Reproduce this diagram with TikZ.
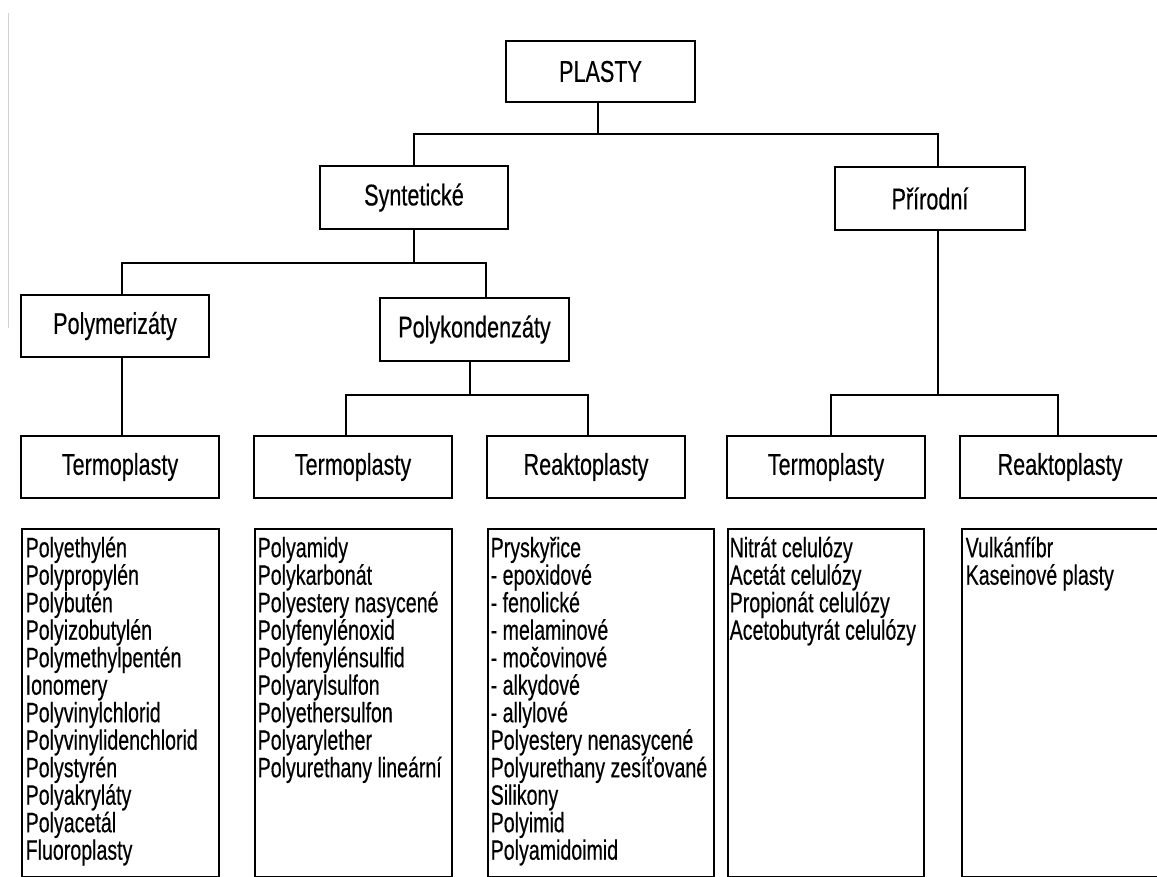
\documentclass[tikz,border=0pt]{standalone}
\usepackage{fontspec}
\setmainfont{Liberation Sans}[FakeStretch=0.7,FakeBold=0.35]
\newfontfamily\labelfont{Liberation Sans}[FakeStretch=0.72,FakeBold=0.35]
\begin{document}
\begin{tikzpicture}[x=1pt,y=-1pt,
  every node/.style={font=\fontsize{28}{27.5}\selectfont},
  box/.style={draw, line width=2pt, inner sep=0pt, minimum height=62pt, font=\labelfont\fontsize{30}{30}\selectfont},
  listbox/.style={draw, line width=2pt, inner sep=0pt, anchor=north west, minimum height=348pt},
  listtext/.style={anchor=north west, inner sep=0pt, align=left},
  conn/.style={line width=2pt, line join=miter}]
\fill[white] (0,0) rectangle (1157,876);
\useasboundingbox (0,0) rectangle (1157,876);
% scan edge mark
\draw[gray!35, line width=0.8pt] (8,13) -- (8,328);
% level 0-1
\node[box, minimum width=189pt, minimum height=61pt] (plasty) at (600.5,71.5) {PLASTY};
\node[box, minimum width=188pt, minimum height=63pt] (synt) at (414,197.5) {Syntetické};
\node[box, minimum width=190pt, minimum height=63pt] (prir) at (930,198.5) {Přírodní};
% level 2
\node[box, minimum width=188pt] (polym) at (115,326) {Polymerizáty};
\node[box, minimum width=189pt, minimum height=63pt] (polyk) at (474.5,329.5) {Polykondenzáty};
% level 3
\node[box, minimum width=198pt] (t1) at (120,467) {Termoplasty};
\node[box, minimum width=198pt] (t2) at (353,467) {Termoplasty};
\node[box, minimum width=198pt] (r1) at (586,467) {Reaktoplasty};
\node[box, minimum width=198pt] (t3) at (826,467) {Termoplasty};
\node[box, minimum width=200pt] (r2) at (1060,467) {Reaktoplasty};
% connectors
\coordinate (j1) at (598,134);
\draw[conn] ([xshift=-2.5pt]plasty.south) -- (j1);
\draw[conn] (synt.north) |- (j1) -| ([xshift=8pt]prir.north);
\coordinate (j2) at (414,263);
\draw[conn] (synt.south) -- (j2);
\draw[conn] ([xshift=7pt]polym.north) |- (j2) -| ([xshift=11.5pt]polyk.north);
\draw[conn] ([xshift=7pt]polym.south) -- ([xshift=2pt]t1.north);
\coordinate (j3) at (470,395);
\draw[conn] ([xshift=-4.5pt]polyk.south) -- (j3);
\draw[conn] ([xshift=-7pt]t2.north) |- (j3) -| ([xshift=2pt]r1.north);
\coordinate (j4) at (938,395);
\draw[conn] ([xshift=8pt]prir.south) -- (j4);
\draw[conn] ([xshift=5pt]t3.north) |- (j4) -| ([xshift=-2pt]r2.north);
% list boxes
\node[listbox, minimum width=197pt] (l1) at (21,528) {};
\node[listbox, minimum width=197pt] (l2) at (254,528) {};
\node[listbox, minimum width=226pt] (l3) at (487,528) {};
\node[listbox, minimum width=196pt] (l4) at (727,528) {};
\node[listbox, minimum width=200pt] (l5) at (961,528) {};
% list texts
\node[listtext] (l1t) at (25.5,535) {\rule{0pt}{22pt}Polyethylén\\Polypropylén\\Polybutén\\Polyizobutylén\\Polymethylpentén\\Ionomery\\Polyvinylchlorid\\Polyvinylidenchlorid\\Polystyrén\\Polyakryláty\\Polyacetál\\Fluoroplasty};
\node[listtext] (l2t) at (257.5,535) {\rule{0pt}{22pt}Polyamidy\\Polykarbonát\\Polyestery nasycené\\Polyfenylénoxid\\Polyfenylénsulfid\\Polyarylsulfon\\Polyethersulfon\\Polyarylether\\Polyurethany lineární};
\node[listtext] (l3t) at (490.5,535) {\rule{0pt}{22pt}Pryskyřice\\- epoxidové\\- fenolické\\- melaminové\\- močovinové\\- alkydové\\- allylové\\Polyestery nenasycené\\Polyurethany zesíťované\\Silikony\\Polyimid\\Polyamidoimid};
\node[listtext] (l4t) at (729.5,535) {\rule{0pt}{22pt}Nitrát celulózy\\Acetát celulózy\\Propionát celulózy\\Acetobutyrát celulózy};
\node[listtext] (l5t) at (965.5,535) {\rule{0pt}{22pt}Vulkánfíbr\\Kaseinové plasty};
\end{tikzpicture}
\end{document}
